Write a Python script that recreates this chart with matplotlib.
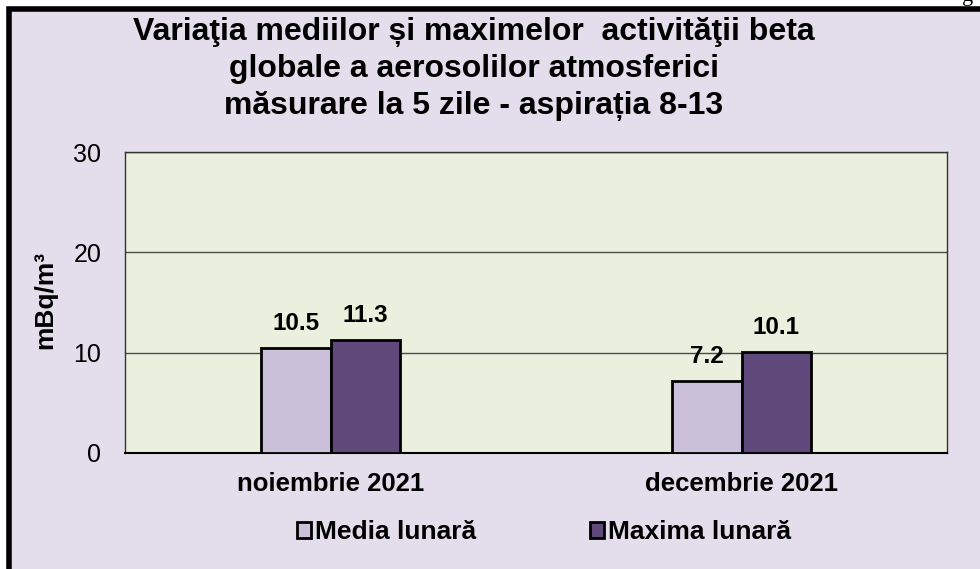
import matplotlib
matplotlib.use("Agg")
import matplotlib.pyplot as plt
from matplotlib.patches import Rectangle, Patch
import numpy as np

categories = ["noiembrie 2021", "decembrie 2021"]
media = [10.5, 7.2]
maxima = [11.3, 10.1]
series_names = ["Media lunară", "Maxima lunară"]
yticks = [0, 10, 20, 30]

font = ["Liberation Sans", "DejaVu Sans"]

fig = plt.figure(figsize=(9.8, 5.69), dpi=100)
fig.patch.set_facecolor("white")

# outer chart frame (right and bottom run off the picture)
fig.patches.append(Rectangle((9 / 980, -0.1), 1.2, (569 - 9) / 569 + 0.1,
                             transform=fig.transFigure, facecolor="#E4DEEC",
                             edgecolor="black", linewidth=4, zorder=-5))
fig.text(962 / 980, 1 + 4 / 569, "g", family="Liberation Serif", fontsize=16,
         ha="left", va="center")

ax = fig.add_axes([125 / 980, 1 - 453 / 569, 822 / 980, 301 / 569])
ax.set_facecolor("#EBEFDD")

x = np.arange(len(categories))
w = 0.17
b1 = ax.bar(x - w / 2, media, w, color="#CBC0DA", edgecolor="black", linewidth=2, zorder=3)
b2 = ax.bar(x + w / 2, maxima, w, color="#604A7B", edgecolor="black", linewidth=2, zorder=3)

for bars, vals in ((b1, media), (b2, maxima)):
    for r, v in zip(bars, vals):
        ax.annotate(f"{v:.1f}", (r.get_x() + r.get_width() / 2, v),
                    xytext=(0, 9), textcoords="offset points", ha="center",
                    va="bottom", fontsize=17.5, fontweight="bold", family=font)

ax.set_xlim(-0.5, 1.5)
ax.set_ylim(0, 30)
ax.set_yticks(yticks)
ax.yaxis.grid(True, color="#4a4a4a", linewidth=1)
ax.set_axisbelow(True)
ax.tick_params(axis="y", length=0, pad=17, labelsize=18)
for lab in ax.get_yticklabels():
    lab.set_family(font)
ax.set_xticks(x)
ax.set_xticklabels(categories, fontsize=18.5, fontweight="bold", family=font)
ax.tick_params(axis="x", length=0, pad=14)
for s in ax.spines.values():
    s.set_color("#333333")
    s.set_linewidth(1)
ax.spines["bottom"].set_color("black")
ax.spines["bottom"].set_linewidth(1.5)

fig.text(45 / 980, 1 - 300 / 569, "mBq/m³", rotation=90, ha="center", va="center",
         fontsize=19, fontweight="bold", family=font)

title = ("Variaţia mediilor și maximelor  activităţii beta\n"
         "globale a aerosolilor atmosferici\n"
         "măsurare la 5 zile - aspirația 8-13")
fig.text(474 / 980, 1 - 69 / 569, title, ha="center", va="center",
         fontsize=23, fontweight="bold", family=font, linespacing=1.3)

handles = [Patch(facecolor="#CBC0DA", edgecolor="black", linewidth=2),
           Patch(facecolor="#604A7B", edgecolor="black", linewidth=2)]
leg = fig.legend(handles, series_names, loc="center", ncol=2,
                 bbox_to_anchor=(544 / 980, 1 - 532 / 569), frameon=False,
                 handlelength=0.55, handleheight=0.55, handletextpad=0.15,
                 columnspacing=4.3, borderpad=0,
                 prop={"family": font, "weight": "bold", "size": 19})

fig.savefig("out.png", dpi=100, facecolor=fig.get_facecolor())
